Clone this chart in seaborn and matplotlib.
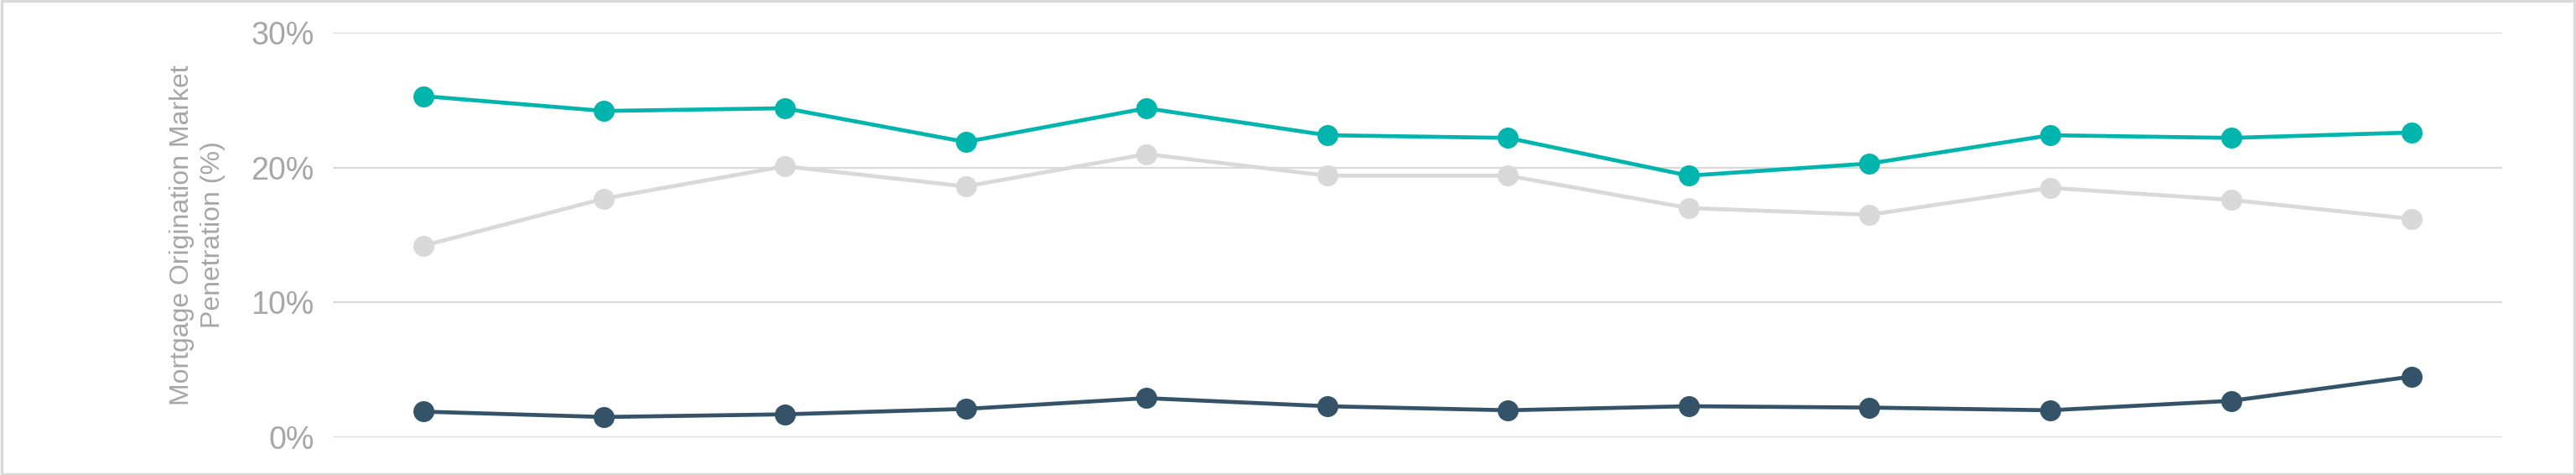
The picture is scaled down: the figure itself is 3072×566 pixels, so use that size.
import pandas as pd
import matplotlib.pyplot as plt
import seaborn as sns
from matplotlib.ticker import PercentFormatter

# values (percent)
periods = list(range(12))
teal_vals = [25.3, 24.2, 24.4, 21.9, 24.4, 22.4, 22.2, 19.4, 20.3, 22.4, 22.2, 22.6]
gray_vals = [14.2, 17.7, 20.1, 18.6, 21.0, 19.4, 19.4, 17.0, 16.5, 18.5, 17.6, 16.2]
dark_vals = [1.9, 1.5, 1.7, 2.1, 2.9, 2.3, 2.0, 2.3, 2.2, 2.0, 2.7, 4.5]

colors = {"Series A": "#00B5AD", "Series B": "#D9D9D9", "Series C": "#345369"}

df = pd.concat([
    pd.DataFrame({"period": periods, "value": gray_vals, "series": "Series B"}),
    pd.DataFrame({"period": periods, "value": teal_vals, "series": "Series A"}),
    pd.DataFrame({"period": periods, "value": dark_vals, "series": "Series C"}),
])

sns.set_style("white")
plt.rcParams["font.family"] = ["Liberation Sans", "DejaVu Sans"]

fig = plt.figure(figsize=(30.72, 5.66), dpi=100)
ax = fig.add_axes([397 / 3072, 1 - 521 / 566, (2984 - 397) / 3072, (521 - 39) / 566])

sns.lineplot(data=df, x="period", y="value", hue="series", palette=colors,
             marker="o", markersize=18, markeredgewidth=0, linewidth=3.4,
             legend=False, ax=ax)

ax.set_xlim(-0.5, 11.5)
ax.set_ylim(0, 30)
ax.set_yticks([0, 10, 20, 30])
ax.yaxis.set_major_formatter(PercentFormatter(decimals=0))
ax.set_xticks([])
ax.set_xlabel("")
ax.set_ylabel("Mortgage Origination Market\nPenetration (%)", fontsize=23,
              color="#A6A6A6", labelpad=22, linespacing=1.3)
ax.tick_params(axis="y", labelsize=27, labelcolor="#A6A6A6", length=0, pad=16)
ax.grid(axis="y", color="#D9D9D9", linewidth=1.6)
ax.set_axisbelow(True)
sns.despine(ax=ax, left=True, bottom=True)

# light frame around the whole figure
fig.patches.append(plt.Rectangle((0.0005, 0.001), 0.999, 0.997, transform=fig.transFigure,
                                 fill=False, edgecolor="#D9D9D9", linewidth=2.5))

fig.savefig("out.png", dpi=100, facecolor="white")
print("Saved: out.png")
